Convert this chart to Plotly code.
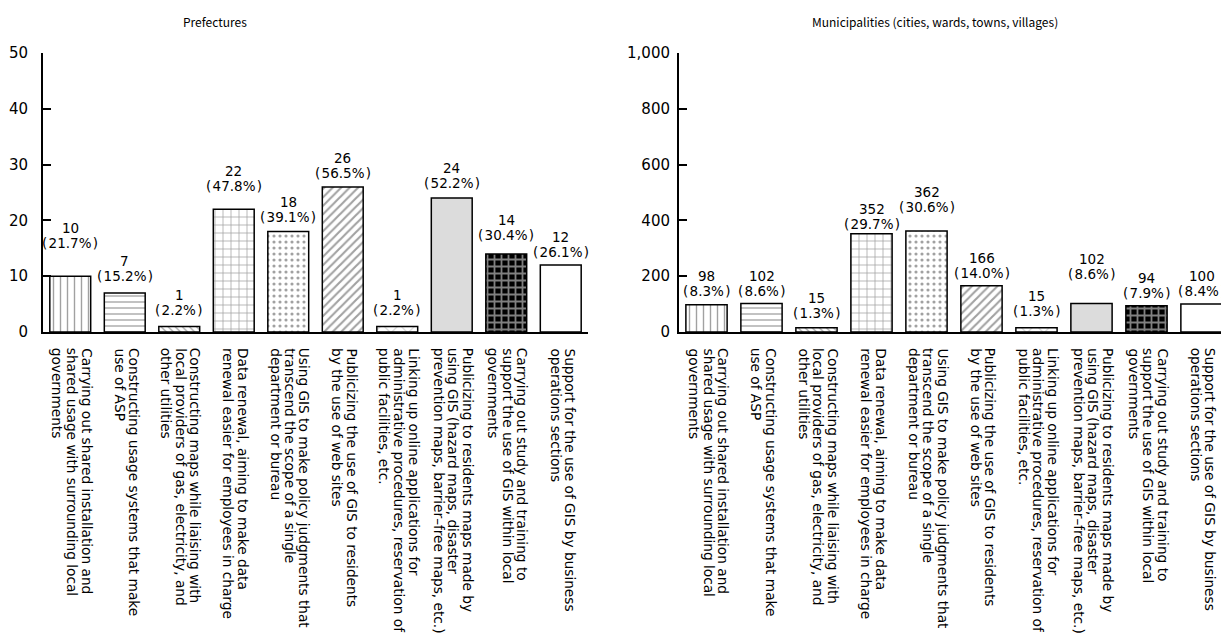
import plotly.graph_objects as go

categories = [
    "Carrying out shared installation and<br>shared usage with surrounding local<br>governments",
    "Constructing usage systems that make<br>use of ASP",
    "Constructing maps while liaising with<br>local providers of gas, electricity, and<br>other utilities",
    "Data renewal, aiming to make data<br>renewal easier for employees in charge",
    "Using GIS to make policy judgments that<br>transcend the scope of a single<br>department or bureau",
    "Publicizing the use of GIS to residents<br>by the use of web sites",
    "Linking up online applications for<br>administrative procedures, reservation of<br>public facilities, etc.",
    "Publicizing to residents maps made by<br>using GIS (hazard maps, disaster<br>prevention maps, barrier\u2013free maps, etc.)",
    "Carrying out study and training to<br>support the use of GIS within local<br>governments",
    "Support for the use of GIS by business<br>operations sections",
]

pref_values = [10, 7, 1, 22, 18, 26, 1, 24, 14, 12]
pref_pct = [21.7, 15.2, 2.2, 47.8, 39.1, 56.5, 2.2, 52.2, 30.4, 26.1]
muni_values = [98, 102, 15, 352, 362, 166, 15, 102, 94, 100]
muni_pct = [8.3, 8.6, 1.3, 29.7, 30.6, 14.0, 1.3, 8.6, 7.9, 8.4]

pref_ticks = [0, 10, 20, 30, 40, 50]
muni_ticks = [0, 200, 400, 600, 800, 1000]

titles = ["Prefectures", "Municipalities (cities, wards, towns, villages)"]

# styles
shapes = ["|", "-", "\\", "+", ".", "/", "x", "", "+", ""]
sizes = [7, 6, 5, 8, 6, 6, 12, 8, 7, 8]
solid = [0.2, 0.22, 0.25, 0.18, 0.22, 0.35, 0.12, 0.3, 0.45, 0.3]
fills = ["white"] * 7 + ["#dcdcdc", "black", "white"]
fgs = ["black"] * 8 + ["white", "black"]

# extra lift (px) of value labels above their bars, as placed in the source
pref_lift = [20, 4, 3, 10, 2, 1, 3, 2, 6, 0]
muni_lift = [1, 0, 2, -3, 11, 0, 4, 17, 0, 0]

FONT = "DejaVu Sans, Noto Sans CJK JP"
W, H = 1221, 627
LINE_STEP = 14.5
LABEL_GAP = 4
LABEL_LINE = 15

fig = go.Figure()
for vals, xa, ya in [
    (pref_values, "x", "y"),
    (muni_values, "x2", "y2"),
]:
    fig.add_trace(
        go.Bar(
            x=categories,
            y=vals,
            xaxis=xa,
            yaxis=ya,
            marker=dict(
                color=fills,
                line=dict(color="black", width=1.5),
                pattern=dict(
                    shape=shapes,
                    size=sizes,
                    solidity=solid,
                    fgcolor=fgs,
                    fillmode="overlay",
                ),
            ),
            showlegend=False,
            hoverinfo="x+y",
        )
    )

xcommon = dict(
    type="category",
    range=[-0.5, 9.5],
    showline=True,
    linecolor="black",
    linewidth=2,
    ticks="",
    showticklabels=False,
    showgrid=False,
    zeroline=False,
    automargin=False,
)
ycommon = dict(
    showline=True,
    linecolor="black",
    linewidth=2,
    ticks="inside",
    ticklen=8,
    tickwidth=2,
    tickcolor="black",
    tickfont=dict(family="DejaVu Sans", size=15, color="black"),
    showgrid=False,
    zeroline=False,
    tickformat=",",
    automargin=False,
)

ybot = (H - 324) / H
ytop = (H - 45) / H

annotations = [
    dict(text=titles[0], x=207 / W, y=1 - 14 / H, xref="paper", yref="paper",
         xanchor="center", yanchor="middle",
         showarrow=False, font=dict(family="Noto Sans CJK JP", size=12, color="black")),
    dict(text=titles[1], x=927 / W, y=1 - 14 / H, xref="paper", yref="paper",
         xanchor="center", yanchor="middle",
         showarrow=False, font=dict(family="Noto Sans CJK JP", size=12, color="black")),
]

# value labels: count and percentage
for vals, pcts, lifts, xr, yr in [
    (pref_values, pref_pct, pref_lift, "x", "y"),
    (muni_values, muni_pct, muni_lift, "x2", "y2"),
]:
    for cat, v, p, lift in zip(categories, vals, pcts, lifts):
        annotations.append(dict(
            text=f"(\u200a{p:.1f}%\u200a)", x=cat, y=v, xref=xr, yref=yr,
            xanchor="center", yanchor="bottom", yshift=LABEL_GAP + lift,
            showarrow=False, borderpad=0,
            font=dict(family=FONT, size=13.5, color="black"),
        ))
        annotations.append(dict(
            text=f"{v}", x=cat, y=v, xref=xr, yref=yr,
            xanchor="center", yanchor="bottom", yshift=LABEL_GAP + lift + LABEL_LINE,
            showarrow=False, borderpad=0,
            font=dict(family=FONT, size=13.5, color="black"),
        ))

# rotated category labels, one annotation per line for tight line spacing
for xr, yr in [("x", "y"), ("x2", "y2")]:
    for cat in categories:
        lines = cat.split("<br>")
        n = len(lines)
        for j, ln in enumerate(lines):
            annotations.append(
                dict(
                    text=ln,
                    x=cat,
                    y=0,
                    xref=xr,
                    yref=yr,
                    xanchor="center",
                    yanchor="top",
                    textangle=90,
                    xshift=((n - 1) / 2 - j) * LINE_STEP + 2,
                    yshift=-14,
                    showarrow=False,
                    font=dict(family="DejaVu Sans", size=13.7, color="black"),
                )
            )

fig.update_layout(
    template="none",
    width=W,
    height=H,
    margin=dict(l=0, r=0, t=0, b=0),
    paper_bgcolor="white",
    plot_bgcolor="rgba(0,0,0,0)",
    bargap=0.25,
    xaxis=dict(xcommon, domain=[35 / W, 580 / W], anchor="y"),
    xaxis2=dict(xcommon, domain=[671 / W, 1.0], anchor="y2"),
    yaxis=dict(ycommon, domain=[ybot, ytop], range=[0, 50], tickvals=pref_ticks,
               ticklabelstandoff=10, anchor="x"),
    yaxis2=dict(ycommon, domain=[ybot, ytop], range=[0, 1000], tickvals=muni_ticks,
                ticklabelstandoff=4, anchor="x2"),
    annotations=annotations,
)

fig.write_html("out.html")
